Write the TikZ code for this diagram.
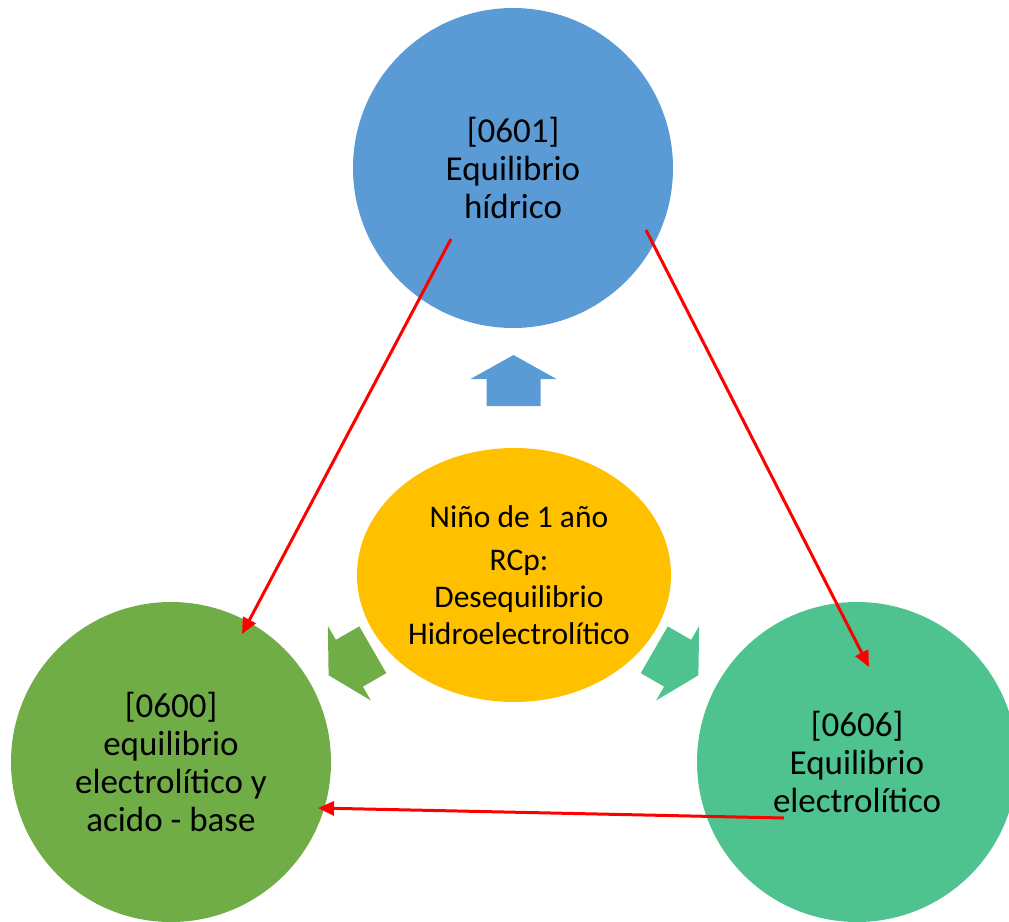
\documentclass[tikz,border=0pt]{standalone}
\usepackage{fontspec}
\setmainfont{Carlito}
\usetikzlibrary{arrows.meta,shapes.geometric}
\definecolor{cblue}{HTML}{5B9BD5}
\definecolor{cgreen}{HTML}{70AD47}
\definecolor{cteal}{HTML}{4EC38F}
\definecolor{cyellow}{HTML}{FFC000}
\definecolor{cred}{HTML}{FF0000}
\tikzset{
  bigcircle/.style={circle,minimum size=320pt,inner sep=0pt,align=center,
    font=\fontsize{35}{38}\selectfont},
  center/.style={ellipse,fill=cyellow,minimum width=314pt,minimum height=254pt,
    inner sep=0pt},
  centertext/.style={align=center,inner sep=0pt,font=\fontsize{31.5}{37}\selectfont},
  redarrow/.style={draw=cred,line width=3pt,-{Triangle[length=16pt,width=14pt]}},
}
\begin{document}
\begin{tikzpicture}[x=1pt,y=-1pt]
\useasboundingbox (0,0) rectangle (1009,921);
\clip (0,0) rectangle (1009,921);
% circles
\node[bigcircle,fill=cblue] (blue) at (513,168) {[0601]\\Equilibrio\\hídrico};
\node[bigcircle,fill=cgreen] (green) at (171,762) {[0600]\\equilibrio\\electrolítico y\\acido - base};
\node[bigcircle,fill=cteal] (teal) at (857,762) {[0606]\\Equilibrio\\electrolítico};
\node[center] (mid) at (514,575) {};
\node[centertext] (midtext) at (519,575) {Niño de 1 año\\[6pt]RCp:\\Desequilibrio\\Hidroelectrolítico};
% block arrows
\def\uparrowpath{(513.5,355) -- (556.5,379) -- (540.5,379) -- (540.5,406) -- (486.5,406) -- (486.5,379) -- (470.5,379) -- cycle}
\fill[cblue] \uparrowpath;
\fill[cgreen,rotate around={120:(513.5,568.5)}] \uparrowpath;
\fill[cteal,rotate around={-120:(513.5,568.5)}] \uparrowpath;
% red connectors
\coordinate (b1) at (451,239);
\coordinate (g1) at (242,634);
\coordinate (b2) at (646,230);
\coordinate (t1) at (869,667);
\coordinate (t2) at (784,818);
\coordinate (g2) at (318,808);
\draw[redarrow] (b1) -- (g1);
\draw[redarrow] (b2) -- (t1);
\draw[redarrow] (t2) -- (g2);
\end{tikzpicture}
\end{document}
